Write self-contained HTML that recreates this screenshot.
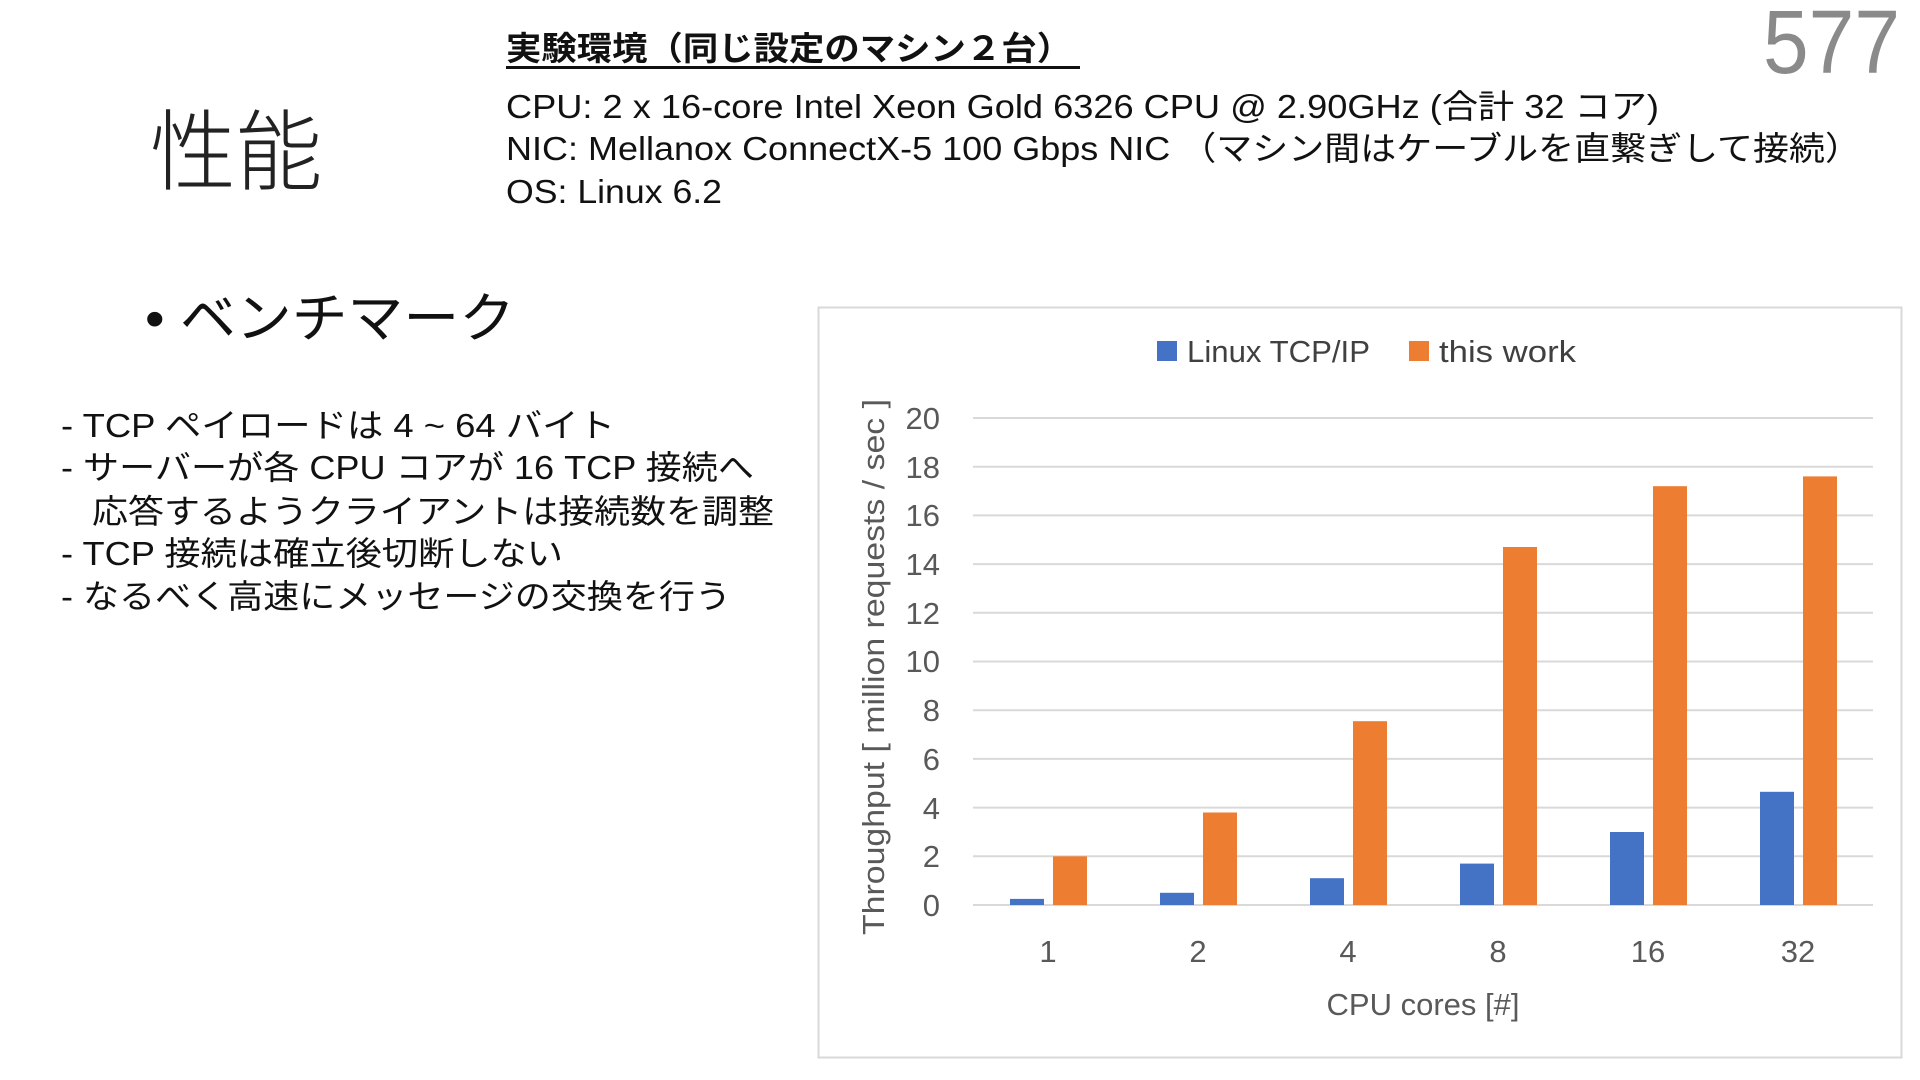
<!DOCTYPE html>
<html><head><meta charset="utf-8"><style>
html,body{margin:0;padding:0;background:#fff;}
svg{display:block;}
text{font-family:"Liberation Sans","Noto Sans CJK JP",sans-serif;}
</style></head><body>
<svg width="1920" height="1080" viewBox="0 0 1920 1080" xmlns="http://www.w3.org/2000/svg">
<rect width="1920" height="1080" fill="#fff"/>
<text x="150" y="183" font-size="88" fill="#222" font-weight="300" textLength="172" lengthAdjust="spacingAndGlyphs">性能</text>
<text x="1763" y="73" font-size="90" fill="#8a8a8a" textLength="137" lengthAdjust="spacingAndGlyphs">577</text>
<text x="506" y="60" font-size="33" font-weight="bold" fill="#111" textLength="566" lengthAdjust="spacingAndGlyphs">実験環境（同じ設定のマシン２台）</text>
<rect x="506" y="66" width="574" height="3" fill="#111"/>
<text x="506" y="118" font-size="33" fill="#111" textLength="1153" lengthAdjust="spacingAndGlyphs">CPU: 2 x 16-core Intel Xeon Gold 6326 CPU @ 2.90GHz (合計 32 コア)</text>
<text x="506" y="160" font-size="33" fill="#111" textLength="1355" lengthAdjust="spacingAndGlyphs">NIC: Mellanox ConnectX-5 100 Gbps NIC （マシン間はケーブルを直繋ぎして接続）</text>
<text x="506" y="203" font-size="33" fill="#111" textLength="216" lengthAdjust="spacingAndGlyphs">OS: Linux 6.2</text>
<text x="145" y="337" font-size="54" fill="#111" textLength="370" lengthAdjust="spacingAndGlyphs">• ベンチマーク</text>
<g font-size="33" fill="#111">
<text x="61" y="437" textLength="554" lengthAdjust="spacingAndGlyphs">- TCP ペイロードは 4 ~ 64 バイト</text>
<text x="61" y="479" textLength="693" lengthAdjust="spacingAndGlyphs">- サーバーが各 CPU コアが 16 TCP 接続へ</text>
<text x="92" y="523" textLength="682" lengthAdjust="spacingAndGlyphs">応答するようクライアントは接続数を調整</text>
<text x="61" y="565" textLength="502" lengthAdjust="spacingAndGlyphs">- TCP 接続は確立後切断しない</text>
<text x="61" y="608" textLength="670" lengthAdjust="spacingAndGlyphs">- なるべく高速にメッセージの交換を行う</text>
</g>
<rect x="818.5" y="307.5" width="1083" height="750" fill="#fff" stroke="#d9d9d9" stroke-width="2"/>
<rect x="1157" y="341" width="20" height="20" fill="#4472c4"/>
<text x="1187" y="362" font-size="31" fill="#404040" textLength="183" lengthAdjust="spacingAndGlyphs">Linux TCP/IP</text>
<rect x="1409" y="341" width="20" height="20" fill="#ed7d31"/>
<text x="1439" y="362" font-size="31" fill="#404040" textLength="137" lengthAdjust="spacingAndGlyphs">this work</text>
<g stroke="#d9d9d9" stroke-width="2">
<line x1="973" x2="1873" y1="418" y2="418"/><line x1="973" x2="1873" y1="466.7" y2="466.7"/>
<line x1="973" x2="1873" y1="515.4" y2="515.4"/><line x1="973" x2="1873" y1="564.1" y2="564.1"/>
<line x1="973" x2="1873" y1="612.8" y2="612.8"/><line x1="973" x2="1873" y1="661.5" y2="661.5"/>
<line x1="973" x2="1873" y1="710.2" y2="710.2"/><line x1="973" x2="1873" y1="758.9" y2="758.9"/>
<line x1="973" x2="1873" y1="807.6" y2="807.6"/><line x1="973" x2="1873" y1="856.3" y2="856.3"/>
<line x1="973" x2="1873" y1="905" y2="905"/>
</g>
<g font-size="31" fill="#595959" text-anchor="end">
<text x="940" y="429">20</text><text x="940" y="478">18</text><text x="940" y="526">16</text>
<text x="940" y="575">14</text><text x="940" y="624">12</text><text x="940" y="672">10</text>
<text x="940" y="721">8</text><text x="940" y="770">6</text><text x="940" y="819">4</text>
<text x="940" y="867">2</text><text x="940" y="916">0</text>
</g>
<g fill="#4472c4">
<rect x="1010" y="898.9" width="34" height="6.1"/>
<rect x="1160" y="892.8" width="34" height="12.2"/>
<rect x="1310" y="878.2" width="34" height="26.8"/>
<rect x="1460" y="863.6" width="34" height="41.4"/>
<rect x="1610" y="832" width="34" height="73"/>
<rect x="1760" y="791.8" width="34" height="113.2"/>
</g>
<g fill="#ed7d31">
<rect x="1053" y="856.3" width="34" height="48.7"/>
<rect x="1203" y="812.5" width="34" height="92.5"/>
<rect x="1353" y="721.2" width="34" height="183.8"/>
<rect x="1503" y="547" width="34" height="358"/>
<rect x="1653" y="486.2" width="34" height="418.8"/>
<rect x="1803" y="476.4" width="34" height="428.6"/>
</g>
<g font-size="31" fill="#595959" text-anchor="middle">
<text x="1048" y="962">1</text><text x="1198" y="962">2</text><text x="1348" y="962">4</text>
<text x="1498" y="962">8</text><text x="1648" y="962">16</text><text x="1798" y="962">32</text>
<text x="1423" y="1015">CPU cores [#]</text>
<text transform="translate(884,667) rotate(-90)" textLength="536" lengthAdjust="spacingAndGlyphs">Throughput [ million requests / sec ]</text>
</g>
</svg>
</body></html>
